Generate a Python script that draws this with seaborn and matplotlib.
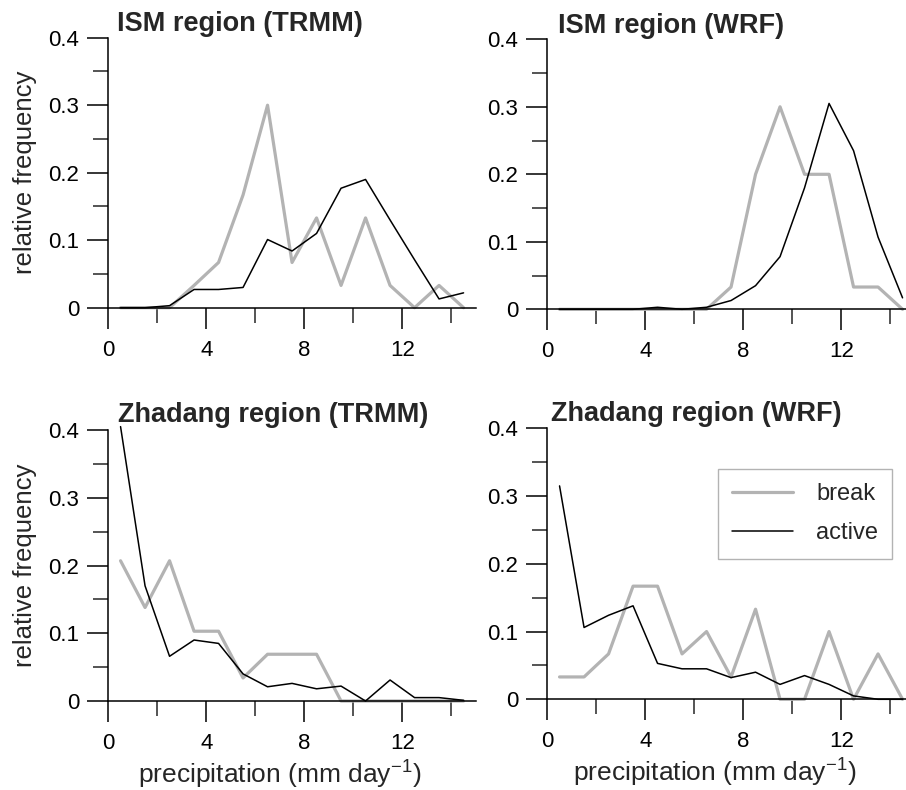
import numpy as np
import pandas as pd
import matplotlib
matplotlib.use("Agg")
import matplotlib.pyplot as plt
import seaborn as sns

# ---------------- data ----------------
bin_centers = [0.5, 1.5, 2.5, 3.5, 4.5, 5.5, 6.5, 7.5, 8.5, 9.5, 10.5, 11.5, 12.5, 13.5, 14.5]

ism_trmm_break = [0, 0, 0, 0.033, 0.067, 0.167, 0.300, 0.067, 0.133, 0.033, 0.133, 0.033, 0, 0.033, 0]
ism_trmm_active = [0, 0, 0.003, 0.027, 0.027, 0.030, 0.101, 0.084, 0.110, 0.177, 0.190, 0.130, 0.071, 0.013, 0.022]

ism_wrf_break = [0, 0, 0, 0, 0, 0, 0, 0.033, 0.200, 0.300, 0.200, 0.200, 0.033, 0.033, 0]
ism_wrf_active = [0, 0, 0, 0, 0.003, 0, 0.003, 0.013, 0.035, 0.078, 0.180, 0.305, 0.235, 0.107, 0.017]

zh_trmm_break = [0.207, 0.138, 0.207, 0.103, 0.103, 0.034, 0.069, 0.069, 0.069, 0, 0, 0, 0, 0, 0]
zh_trmm_active = [0.405, 0.170, 0.066, 0.090, 0.085, 0.040, 0.021, 0.026, 0.018, 0.022, 0, 0.031, 0.005, 0.005, 0.001]

zh_wrf_break = [0.033, 0.033, 0.067, 0.167, 0.167, 0.067, 0.100, 0.033, 0.133, 0, 0, 0.100, 0, 0.067, 0]
zh_wrf_active = [0.315, 0.106, 0.124, 0.138, 0.053, 0.045, 0.045, 0.032, 0.040, 0.022, 0.035, 0.022, 0.005, 0, 0]

titles = ["ISM region (TRMM)", "ISM region (WRF)", "Zhadang region (TRMM)", "Zhadang region (WRF)"]
series_names = ["break", "active"]
xtick_major = [0, 4, 8, 12]
xtick_labels = ["0", "4", "8", "12"]
xtick_minor = [2, 6, 10, 14]
ytick_major = [0, 0.1, 0.2, 0.3, 0.4]
ytick_labels = ["0", "0.1", "0.2", "0.3", "0.4"]
ytick_minor = [0.05, 0.15, 0.25, 0.35]
xlabel = "precipitation (mm day$^{-1}$)"
ylabel = "relative frequency"

panels = [
    (ism_trmm_break, ism_trmm_active),
    (ism_wrf_break, ism_wrf_active),
    (zh_trmm_break, zh_trmm_active),
    (zh_wrf_break, zh_wrf_active),
]

# ---------------- style ----------------
sns.set_style("ticks")
plt.rcParams["font.family"] = ["Liberation Sans", "DejaVu Sans"]
plt.rcParams["mathtext.fontset"] = "custom"
plt.rcParams["mathtext.rm"] = "Liberation Sans"
plt.rcParams["mathtext.it"] = "Liberation Sans:italic"
plt.rcParams["mathtext.bf"] = "Liberation Sans:bold"

colors = {"break": "#b3b3b3", "active": "#000000"}
widths = {"break": 2.3, "active": 1.1}

W, H = 906, 790
fig = plt.figure(figsize=(W / 100, H / 100), dpi=100)

# axes rectangles in pixels: (x of data 0, y of 0.4, y of 0)
px_per_unit = 24.5
rects_px = [
    (108.3, 37.7, 307.7),
    (547.3, 39.3, 309.3),
    (108.3, 430.0, 701.0),
    (547.3, 428.3, 699.3),
]
title_pos = [(0.024, 1.026), (0.029, 1.022), (0.027, 1.03), (0.011, 1.028)]

axes = []
for i, ((x0, ytop, ybot), (brk, act)) in enumerate(zip(rects_px, panels)):
    width_px = 15 * px_per_unit
    ax = fig.add_axes([x0 / W, 1 - ybot / H, width_px / W, (ybot - ytop) / H])
    df = pd.DataFrame({
        "x": bin_centers * 2,
        "freq": list(brk) + list(act),
        "state": ["break"] * len(brk) + ["active"] * len(act),
    })
    for name in series_names:
        sub = df[df["state"] == name]
        sns.lineplot(data=sub, x="x", y="freq", ax=ax, color=colors[name],
                     linewidth=widths[name], label=name, legend=False,
                     clip_on=False, zorder=3 if name == "active" else 2)
    ax.set_xlim(0, 15)
    ax.set_ylim(0, 0.4)
    ax.set_xticks(xtick_major)
    ax.set_xticklabels(xtick_labels)
    ax.set_xticks(xtick_minor, minor=True)
    ax.set_yticks(ytick_major)
    ax.set_yticklabels(ytick_labels)
    ax.set_yticks(ytick_minor, minor=True)
    ax.tick_params(which="major", direction="out", length=15, width=1.1,
                   labelsize=16, colors="black")
    ax.tick_params(which="minor", direction="out", length=10.5, width=1.1)
    ax.tick_params(axis="x", which="major", pad=8)
    ax.tick_params(axis="y", which="major", pad=6)
    sns.despine(ax=ax)
    for s in ["left", "bottom"]:
        ax.spines[s].set_linewidth(1.1)
        ax.spines[s].set_color("black")
    ax.set_xlabel(xlabel if i >= 2 else "", fontsize=19)
    ax.set_ylabel(ylabel if i % 2 == 0 else "", fontsize=18.5)
    ax.patch.set_alpha(0)
    ax.text(title_pos[i][0], title_pos[i][1], titles[i], transform=ax.transAxes,
            fontsize=19.5, fontweight="bold", ha="left", va="baseline")
    axes.append(ax)

# legend in the last panel
handles, labels = axes[3].get_legend_handles_labels()
leg = fig.legend(handles, labels, loc="upper right",
                 bbox_to_anchor=(892.3 / W, 1 - 469.3 / H),
                 bbox_transform=fig.transFigure, fontsize=17, frameon=True,
                 fancybox=False, handlelength=2.55, handletextpad=1.0,
                 labelspacing=0.72, borderpad=0.6, borderaxespad=0)
leg.get_frame().set_edgecolor("#a0a0a0")
leg.get_frame().set_linewidth(1.0)

# axis label positions
for ax in axes[::2]:
    ax.yaxis.set_label_coords(-0.195, 0.5)
axes[2].xaxis.set_label_coords(0.467, -0.212)
axes[3].xaxis.set_label_coords(0.455, -0.212)

fig.savefig("out.png", dpi=100)
